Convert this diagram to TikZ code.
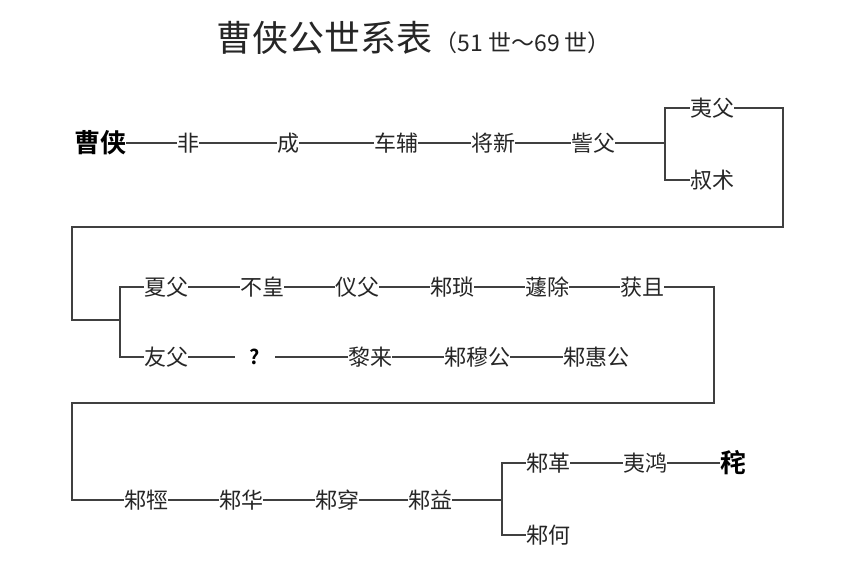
\documentclass[tikz,border=0pt]{standalone}
\usepackage{fontspec}
\newfontfamily\cjk{Noto Sans CJK SC}[BoldFont={Noto Sans CJK SC Bold}]
\usetikzlibrary{positioning}
\tikzset{
  person/.style={font=\cjk\fontsize{22}{24}\selectfont, inner sep=0pt, text=black!85},
  boldperson/.style={person, font=\cjk\bfseries\fontsize{26}{28}\selectfont, text=black},
  link/.style={draw=black!75, line width=1.2pt},
  tree/.style={draw=black!75, line width=1.2pt}
}
\begin{document}
\begin{tikzpicture}[x=1pt, y=-1pt]
        \useasboundingbox (0,0) rectangle (865,565);

        % Title
        \node[font=\cjk\fontsize{36}{40}\selectfont, inner sep=0pt, anchor=west, text=black!85] (title) at (216,38) {曹侠公世系表};
        \node[font=\cjk\fontsize{23}{26}\selectfont, inner sep=0pt, anchor=base west, text=black!85] (sub) at ([xshift=2pt]title.base east) {（51 世～69 世）};

        % Row 1
        \node[boldperson] (caoxia) at (100,143) {曹侠};
        \node[person] (fei) at (188,143) {非};
        \node[person] (cheng) at (288,143) {成};
        \node[person] (chefu) at (396,143) {车辅};
        \node[person] (jiangxin) at (493,143) {将新};
        \node[person] (zifu) at (593,143) {訾父};
        \node[person] (yifu) at (712,108) {夷父};
        \node[person] (shushu) at (712,180) {叔术};
        \coordinate (b1) at (665,143);

        \draw[link] (caoxia) -- (fei);
        \draw[link] (fei) -- (cheng);
        \draw[link] (cheng) -- (chefu);
        \draw[link] (chefu) -- (jiangxin);
        \draw[link] (jiangxin) -- (zifu);
        \draw[link] (zifu) -- (b1);
        \draw[tree] (yifu.west) -| (b1) |- (shushu.west);

        % Row 2
        \node[person] (xiafu) at (166,287) {夏父};
        \node[person] (buhuang) at (262,287) {不皇};
        \node[person] (yifu2) at (357,287) {仪父};
        \node[person] (zhusuo) at (452,287) {邾琐};
        \node[person] (quchu) at (547,287) {蘧除};
        \node[person] (huoqie) at (642,287) {获且};
        \node[person] (youfu) at (166,357) {友父};
        \node[boldperson, font=\cjk\bfseries\fontsize{20}{22}\selectfont, minimum width=40pt] (unknown) at (255,357) {?};
        \node[person] (lilai) at (370,357) {黎来};
        \node[person] (zhumu) at (477,357) {邾穆公};
        \node[person] (zhuhui) at (596,357) {邾惠公};
        \coordinate (b2) at (120,320);
        \coordinate (w1a) at (783,108);
        \coordinate (w1b) at (72,227);

        \draw[tree] (yifu) -- (w1a) |- (w1b) |- (b2);
        \draw[tree] (xiafu.west) -| (b2) |- (youfu.west);
        \draw[link] (xiafu) -- (buhuang);
        \draw[link] (buhuang) -- (yifu2);
        \draw[link] (yifu2) -- (zhusuo);
        \draw[link] (zhusuo) -- (quchu);
        \draw[link] (quchu) -- (huoqie);
        \draw[link] (youfu) -- (unknown);
        \draw[link] (unknown) -- (lilai);
        \draw[link] (lilai) -- (zhumu);
        \draw[link] (zhumu) -- (zhuhui);

        % Row 3
        \node[person] (zhujing) at (146,500) {邾牼};
        \node[person] (zhuhua) at (241,500) {邾华};
        \node[person] (zhuchuan) at (337,500) {邾穿};
        \node[person] (zhuyi) at (430,500) {邾益};
        \node[person] (zhuge) at (548,463) {邾革};
        \node[person] (yihong) at (645,463) {夷鸿};
        \node[boldperson] (du) at (733,463) {秺};
        \node[person] (zhuhe) at (548,535) {邾何};
        \coordinate (b3) at (502,500);
        \coordinate (w2a) at (714,287);
        \coordinate (w2b) at (72,403);

        \draw[tree] (huoqie) -- (w2a) |- (w2b) |- (zhujing.west);
        \draw[link] (zhujing) -- (zhuhua);
        \draw[link] (zhuhua) -- (zhuchuan);
        \draw[link] (zhuchuan) -- (zhuyi);
        \draw[link] (zhuyi) -- (b3);
        \draw[tree] (zhuge.west) -| (b3) |- (zhuhe.west);
        \draw[link] (zhuge) -- (yihong);
        \draw[link] (yihong) -- (du);
\end{tikzpicture}
\end{document}
